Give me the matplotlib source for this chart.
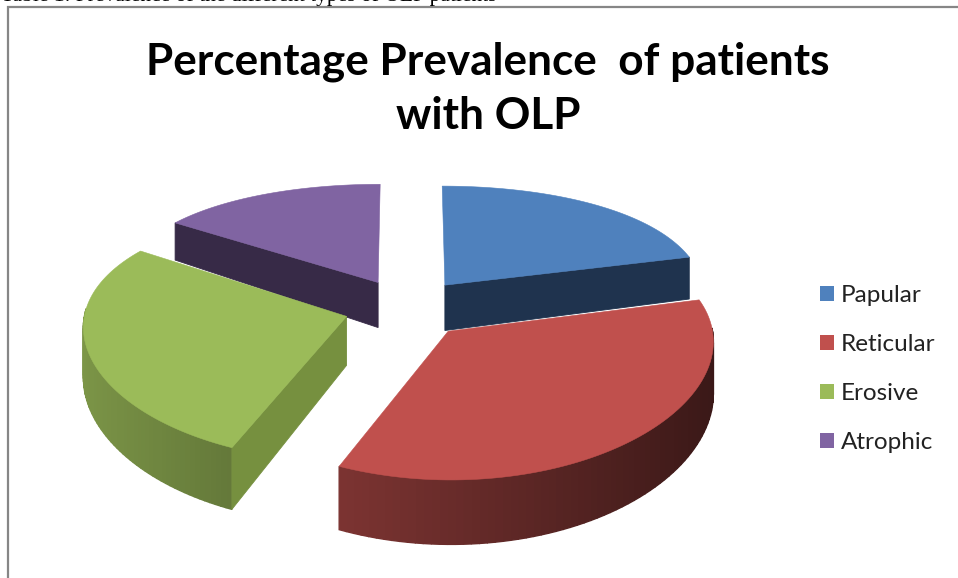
import numpy as np
import matplotlib
matplotlib.use('Agg')
import matplotlib.pyplot as plt
from matplotlib.patches import Patch

labels = ['Papular', 'Reticular', 'Erosive', 'Atrophic']
values = [21, 35.5, 28, 15.5]
colors = ['#4f81bd', '#c0504d', '#9bbb59', '#8064a2']
cut_colors = ['#1f334e', None, '#76903f', '#372a47']
draw_order = [3, 0, 2, 1]

title = 'Percentage Prevalence  of patients\nwith OLP'
caption = 'Table 1: Prevalence of the different types of OLP patients'

# pie geometry, in pixels
cx, cy = 407, 308
rx, ry = 261, 124
depth = 48
persp_x, persp_y, persp_d = 0.07, 0.146, 0.29
explode = 0.24


def project(u, v, drop=0.0):
    x = cx + rx * u * (1 + persp_x * v)
    y = cy + ry * v * (1 + persp_y * v) + drop * depth * (1 + persp_d * v)
    return x, y


def shade(color, f):
    r, g, b = matplotlib.colors.to_rgb(color)
    return (r * f, g * f, b * f)


fig = plt.figure(figsize=(9.58, 5.78), dpi=100)
ax = fig.add_axes([0, 0, 1, 1])
ax.set_xlim(0, 958)
ax.set_ylim(578, 0)
ax.axis('off')

# angles run clockwise from the top of the pie
edges = np.cumsum([0] + values) / sum(values) * 2 * np.pi

for i in draw_order:
    a0, a1 = edges[i], edges[i + 1]
    mid = (a0 + a1) / 2
    ou, ov = explode * np.sin(mid), -explode * np.cos(mid)
    t = np.linspace(a0, a1, 80)
    u = ou + np.sin(t)
    v = ov - np.cos(t)

    # outer rim, split into strips so it can carry the gradient
    for j in range(len(t) - 1):
        x0, y0 = project(u[j:j + 2], v[j:j + 2])
        x1, y1 = project(u[j:j + 2], v[j:j + 2], 1)
        f = 0.55 - 0.25 * np.sin(t[j])
        # rim on the far side of the pie stays hidden
        if np.cos(t[j]) < 0.05:
            ax.fill([x0[0], x0[1], x1[1], x1[0]], [y0[0], y0[1], y1[1], y1[0]],
                    color=shade(colors[i], f), lw=1.0)

    # cut faces that look at the viewer
    if cut_colors[i] is not None:
        a = a1 if i == 0 else a0
        pu = np.array([ou, ou + np.sin(a)])
        pv = np.array([ov, ov - np.cos(a)])
        x0, y0 = project(pu, pv)
        x1, y1 = project(pu, pv, 1)
        ax.fill([x0[0], x0[1], x1[1], x1[0]], [y0[0], y0[1], y1[1], y1[0]],
                color=cut_colors[i], lw=0.6)

    # top surface
    tx, ty = project(np.r_[ou, u], np.r_[ov, v])
    ax.fill(tx, ty, color=colors[i], lw=0.4)

# frame of the pasted chart
ax.plot([8.5, 8.5, 958], [578, 7, 7], color='#868686', lw=1.6, solid_joinstyle='miter')

ax.text(497, 0.5, caption, family='Liberation Serif', fontsize=15.5, ha='right', va='baseline', color='black')
ax.text(488, 88.5, title, family='Lato', fontweight='bold', fontsize=31.8, ha='center', va='center',
        linespacing=1.42, color='black')

handles = [Patch(facecolor=c, edgecolor='none') for c in colors]
ax.legend(handles, labels, loc='center left', bbox_to_anchor=(820, 369), bbox_transform=ax.transData,
          frameon=False, prop={'family': 'Lato', 'size': 17.5}, handlelength=0.58, handleheight=0.58,
          handletextpad=0.29, labelspacing=1.15, borderpad=0, borderaxespad=0, labelcolor='#222222')

fig.savefig('out.png', dpi=100)
